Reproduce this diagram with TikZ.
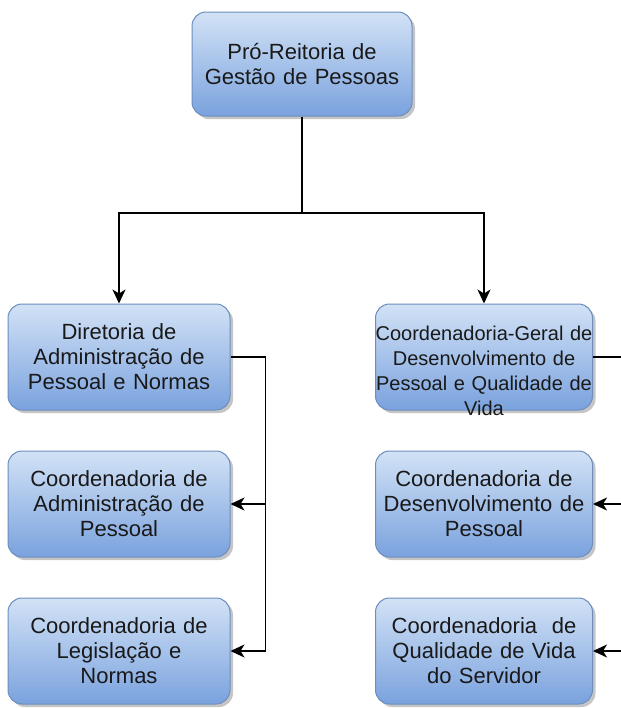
\documentclass[tikz,border=0pt]{standalone}
\usepackage{fontspec}
\setmainfont{Liberation Sans}
\usetikzlibrary{positioning,shadows,arrows.meta}
\definecolor{boxtop}{HTML}{D2E2F6}
\definecolor{boxbot}{HTML}{7AA2DE}
\definecolor{boxline}{HTML}{6C8EBF}

\begin{document}
\begin{tikzpicture}[x=0.5pt, y=-0.5pt, node distance=20pt,
  >={Stealth[length=7pt,width=6.5pt,inset=2pt]},
  unit/.style = {draw=boxline, line width=0.5pt, rounded corners=7pt,
    top color=boxtop, bottom color=boxbot,
    drop shadow={shadow xshift=1.5pt, shadow yshift=-1.5pt, fill=black!45, opacity=0.5},
    text width=111pt, inner xsep=0pt, minimum height=53pt, align=center,
    font=\fontsize{11}{12.5}\selectfont, text=black!90},
  narrow/.style = {text width=108.5pt},
  link/.style = {line width=0.9pt}]
\useasboundingbox (0,0) rectangle (621,708);
\node[unit, text width=110pt, minimum height=52pt] (prgp) at (302,64) {Pró-Reitoria de\\Gestão de Pessoas};
\node[unit] (dap) at (119,357) {Diretoria de\\Administração de\\Pessoal e Normas};
\node[unit] (cap) [below=of dap] {Coordenadoria de\\Administração de\\Pessoal};
\node[unit] (cln) [below=of cap] {Coordenadoria de\\Legislação e\\Normas};
\node[unit, narrow, font=\fontsize{10}{12.5}\selectfont, text height=14pt, text depth=31pt] (cgdq) at (484,357) {\makebox[\linewidth]{Coordenadoria-Geral de}\\Desenvolvimento de\\\makebox[\linewidth]{Pessoal e Qualidade de}\\Vida};
\node[unit, narrow] (cdp) [below=of cgdq] {Coordenadoria de\\Desenvolvimento de\\Pessoal};
\node[unit, narrow] (cqvs) [below=of cdp] {Coordenadoria~ de\\Qualidade de Vida\\do Servidor};
\coordinate (split) at (302,213);
\coordinate (lturn) at ([xshift=17.5pt]dap.east);
\coordinate (rturn) at ([xshift=20pt]cgdq.east);
\draw[link] (prgp) -- (split);
\draw[link,->] (split) -| (dap);
\draw[link,->] (split) -| (cgdq);
\draw[link] (dap) -- (lturn);
\draw[link,->] (lturn) |- (cap);
\draw[link,->] (lturn) |- (cln);
\draw[link] (cgdq) -- (rturn);
\draw[link,->] (rturn) |- (cdp);
\draw[link,->] (rturn) |- (cqvs);
\end{tikzpicture}
\end{document}
